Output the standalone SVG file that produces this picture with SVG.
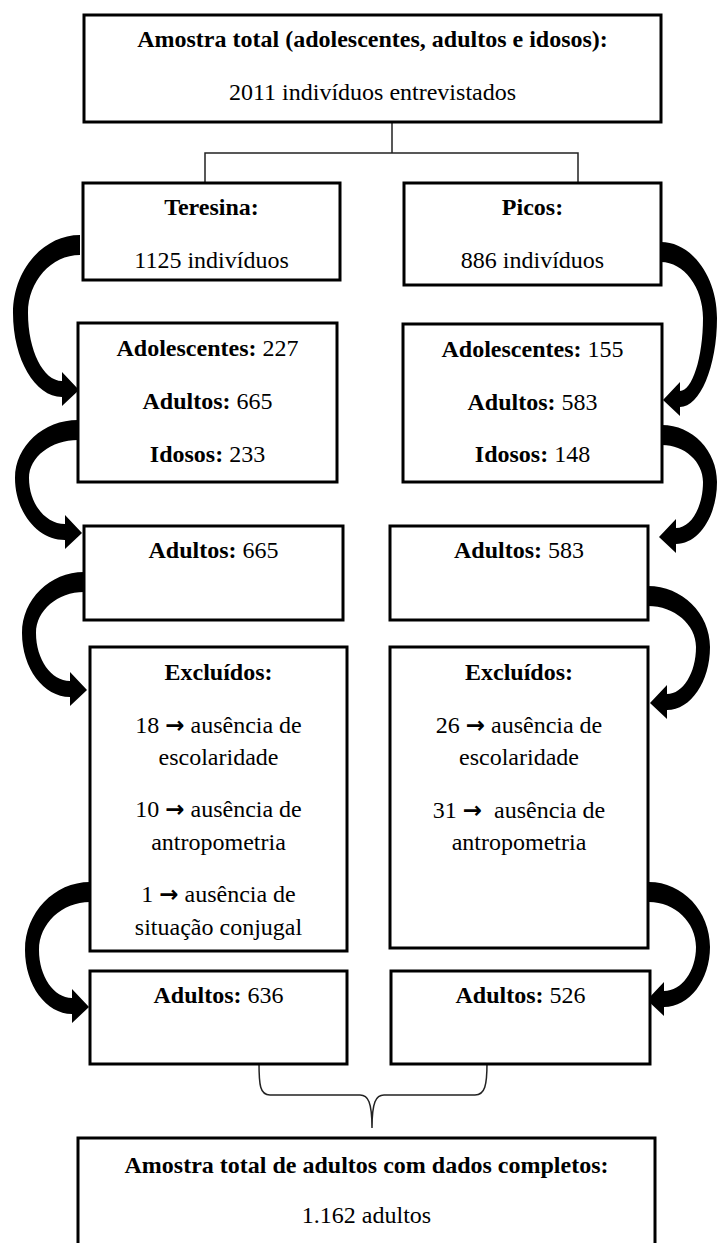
<svg xmlns="http://www.w3.org/2000/svg" width="719" height="1243" viewBox="0 0 719 1243">
<style>
.box{fill:#fff;stroke:#000;stroke-width:3}
.t{font-family:"Liberation Serif","Times New Roman",serif;font-size:24px;fill:#000;text-anchor:middle}
.b{font-weight:bold}
.ar{font-family:"DejaVu Sans",sans-serif;font-weight:bold;font-size:23px}
.ln{fill:none;stroke:#222;stroke-width:1.5}
.arr{fill:#000;stroke:none}
</style>
<rect width="719" height="1243" fill="#fff"/>
<g id="connectors">
<path class="ln" d="M392,122 V153 M205,183 V153 H578 V183"/>
<path class="ln" d="M259,1063 C259,1085 260,1095 270,1095 L360,1095 C368,1095 372,1102 372,1128 C372,1102 376,1095 384,1095 L475,1095 C485,1095 487,1085 487,1063"/>
<path class="arr" d="M80,235 C43.2,235 13,270.1 13,313 C13,359.2 35.1,397 62,397 L62,406 L79,390 L62,372 L62,381 C43.3,381 28,350.4 28,313 C28,281.1 51.4,255 80,255 Z"/>
<path class="arr" d="M78,420 C43.4,420 15,446.1 15,478 C15,512.1 37.5,540 65,540 L65,549 L82,533 L65,515 L65,524 C45.2,524 29,503.3 29,478 C29,457.1 51.1,440 78,440 Z"/>
<path class="arr" d="M84,572 C49.9,572 22,599.5 22,633 C22,668.2 43.6,697 70,697 L70,706 L87,690 L70,672 L70,681 C51.3,681 36,659.4 36,633 C36,610.5 57.6,592 84,592 Z"/>
<path class="arr" d="M90,882 C54.3,882 25,912.6 25,950 C25,985.2 46.2,1014 72,1014 L72,1023 L89,1007 L72,989 L72,998 C53.9,998 39,976.4 39,950 C39,923.6 62,902 90,902 Z"/>
<path class="arr" d="M661,242 C691.3,242 717,276.2 717,318 C717,367 699.8,407 680,407 L680,416 L663,400 L680,382 L680,391 C692.1,391 703,358.2 703,318 C703,287.2 683.6,262 661,262 Z"/>
<path class="arr" d="M662,425 C692.3,425 717,450.7 717,482 C717,516.1 698.6,544 676,544 L676,553 L659,537 L676,519 L676,528 C690.9,528 703,507.3 703,482 C703,461.7 684.6,445 662,445 Z"/>
<path class="arr" d="M648,586 C682.1,586 710,613.5 710,647 C710,681.7 690.7,710 667,710 L667,719 L650,703 L667,685 L667,694 C683,694 696,672.9 696,647 C696,624.5 674.4,606 648,606 Z"/>
<path class="arr" d="M649,882 C682.6,882 710,911.3 710,947 C710,980 689.3,1007 664,1007 L664,1016 L647,1000 L664,982 L664,991 C681.6,991 696,971.2 696,947 C696,922.3 674.9,902 649,902 Z"/>
</g>
<g id="n-total">
<rect class="box" x="84" y="15" width="577" height="107"/>
<text class="t b" x="372.5" y="47">Amostra total (adolescentes, adultos e idosos):</text>
<text class="t" x="372.5" y="100">2011 indivíduos entrevistados</text>
</g>
<g id="n-teresina">
<rect class="box" x="83" y="183" width="257" height="97"/>
<text class="t b" x="211.5" y="215">Teresina:</text>
<text class="t" x="211.5" y="268">1125 indivíduos</text>
</g>
<g id="n-picos">
<rect class="box" x="404" y="183" width="257" height="102"/>
<text class="t b" x="532.5" y="215">Picos:</text>
<text class="t" x="532.5" y="268">886 indivíduos</text>
</g>
<g id="n-ter-grupos">
<rect class="box" x="78" y="323" width="259" height="159"/>
<text class="t" x="207.5" y="356"><tspan class="b">Adolescentes:</tspan> 227</text>
<text class="t" x="207.5" y="409"><tspan class="b">Adultos:</tspan> 665</text>
<text class="t" x="207.5" y="462"><tspan class="b">Idosos:</tspan> 233</text>
</g>
<g id="n-pic-grupos">
<rect class="box" x="403" y="324" width="259" height="158"/>
<text class="t" x="532.5" y="357"><tspan class="b">Adolescentes:</tspan> 155</text>
<text class="t" x="532.5" y="410"><tspan class="b">Adultos:</tspan> 583</text>
<text class="t" x="532.5" y="462"><tspan class="b">Idosos:</tspan> 148</text>
</g>
<g id="n-ter-adultos">
<rect class="box" x="84" y="526" width="259" height="94"/>
<text class="t" x="213.5" y="558"><tspan class="b">Adultos:</tspan> 665</text>
</g>
<g id="n-pic-adultos">
<rect class="box" x="390" y="526" width="258" height="94"/>
<text class="t" x="519" y="558"><tspan class="b">Adultos:</tspan> 583</text>
</g>
<g id="n-ter-excluidos">
<rect class="box" x="90" y="647" width="257" height="304"/>
<text class="t b" x="218.5" y="680">Excluídos:</text>
<text class="t" x="218.5" y="733">18 <tspan class="ar">→</tspan> ausência de</text>
<text class="t" x="218.5" y="765">escolaridade</text>
<text class="t" x="218.5" y="817">10 <tspan class="ar">→</tspan> ausência de</text>
<text class="t" x="218.5" y="850">antropometria</text>
<text class="t" x="218.5" y="902">1 <tspan class="ar">→</tspan> ausência de</text>
<text class="t" x="218.5" y="935">situação conjugal</text>
</g>
<g id="n-pic-excluidos">
<rect class="box" x="390" y="647" width="258" height="301"/>
<text class="t b" x="519" y="680">Excluídos:</text>
<text class="t" x="519" y="733">26 <tspan class="ar">→</tspan> ausência de</text>
<text class="t" x="519" y="765">escolaridade</text>
<text class="t" x="519" y="818">31 <tspan class="ar">→</tspan>&#160; ausência de</text>
<text class="t" x="519" y="850">antropometria</text>
</g>
<g id="n-ter-final">
<rect class="box" x="90" y="971" width="257" height="93"/>
<text class="t" x="218.5" y="1003"><tspan class="b">Adultos:</tspan> 636</text>
</g>
<g id="n-pic-final">
<rect class="box" x="391" y="971" width="259" height="93"/>
<text class="t" x="520.5" y="1003"><tspan class="b">Adultos:</tspan> 526</text>
</g>
<g id="n-final">
<rect class="box" x="78" y="1138" width="577" height="130"/>
<text class="t b" x="366.5" y="1173">Amostra total de adultos com dados completos:</text>
<text class="t" x="366.5" y="1223">1.162 adultos</text>
</g>
</svg>
